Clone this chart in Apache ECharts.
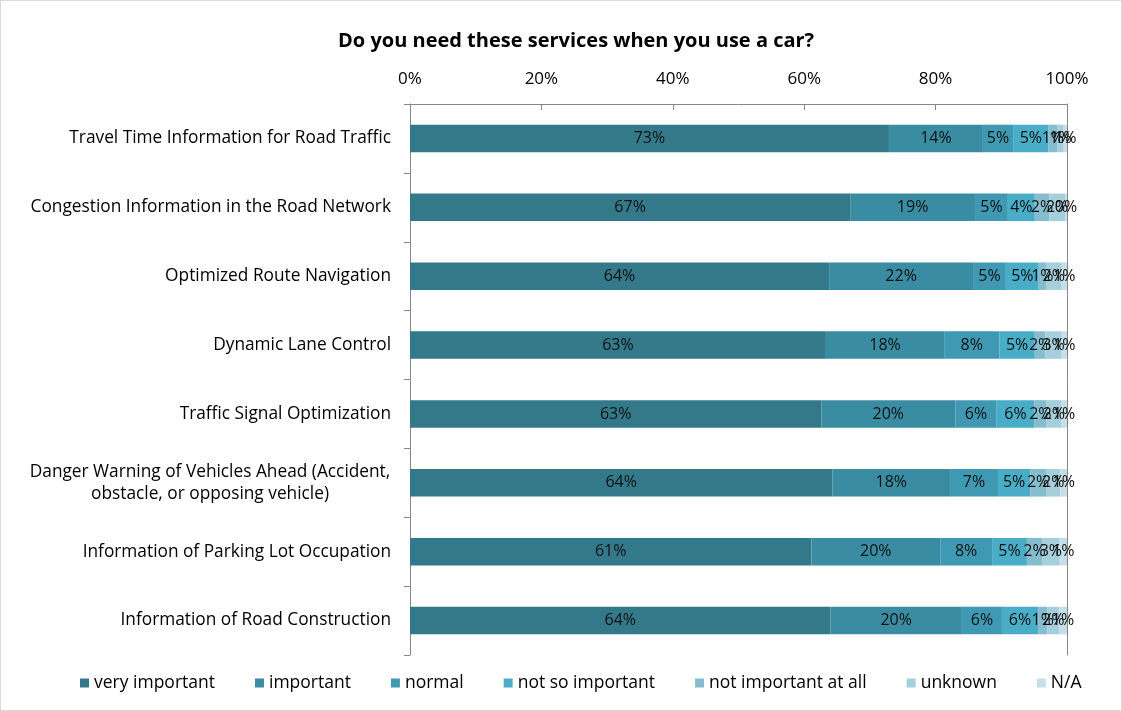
<!DOCTYPE html>
<html>
<head>
<meta charset="utf-8">
<script src="https://cdn.jsdelivr.net/npm/echarts@6/dist/echarts.min.js"></script>
<style>
  html, body { margin: 0; padding: 0; background: #fff; }
  #chart { width: 1120px; height: 709px; border: 1px solid #d9d9d9; }
</style>
</head>
<body>
<div id="chart"></div>
<script>
// Survey: how much drivers need each service (share of answers, %)
const categories = [
  'Travel Time Information for Road Traffic',
  'Congestion Information in the Road Network',
  'Optimized Route Navigation',
  'Dynamic Lane Control',
  'Traffic Signal Optimization',
  'Danger Warning of Vehicles Ahead (Accident,\nobstacle, or opposing vehicle)',
  'Information of Parking Lot Occupation',
  'Information of Road Construction'
];
const seriesNames = ['very important', 'important', 'normal', 'not so important',
  'not important at all', 'unknown', 'N/A'];

const veryImportant = [72.9, 67.0, 63.8, 63.3, 62.6, 64.3, 61.1, 64.0];
const important     = [14.3, 19.0, 21.9, 18.0, 20.4, 17.9, 19.6, 20.0];
const normal        = [4.6, 5.0, 5.0, 8.4, 6.3, 7.3, 7.9, 6.1];
const notSoImportant = [5.4, 4.1, 5.0, 5.4, 5.7, 4.9, 5.3, 5.5];
const notImportantAtAll = [1.3, 2.2, 1.1, 1.6, 1.9, 2.4, 2.3, 1.4];
const unknown       = [1.0, 2.4, 2.4, 2.5, 2.2, 2.2, 2.7, 1.8];
const notAnswered   = [0.5, 0.3, 0.8, 0.8, 0.9, 1.0, 1.1, 1.2];

const axisTicks = [0, 20, 40, 60, 80, 100];

const seriesValues = [veryImportant, important, normal, notSoImportant,
  notImportantAtAll, unknown, notAnswered];
const colors = ['#33798a', '#3a8ca2', '#4099b3', '#4aadc7', '#86bdce', '#a6cfdc', '#c6dee7'];

const FONT = '"Open Sans", "Noto Sans", sans-serif';

const chart = echarts.init(document.getElementById('chart'));

chart.setOption({
  animation: false,
  textStyle: { fontFamily: FONT },
  title: {
    text: 'Do you need these services when you use a car?',
    left: 332,
    top: 25,
    textStyle: { fontSize: 20, fontWeight: 'bold', color: '#000', fontFamily: FONT }
  },
  legend: {
    bottom: 13,
    left: 74,
    itemWidth: 9,
    itemHeight: 9,
    itemGap: 40,
    icon: 'rect',
    textStyle: { fontSize: 17.5, color: '#000', fontFamily: FONT },
    data: seriesNames
  },
  grid: { left: 409, right: 54, top: 103, bottom: 55, containLabel: false },
  xAxis: {
    type: 'value',
    position: 'top',
    min: axisTicks[0],
    max: axisTicks[axisTicks.length - 1],
    interval: axisTicks[1] - axisTicks[0],
    axisLine: { show: true, lineStyle: { color: '#868686', width: 1 } },
    axisTick: { show: true, inside: true, length: 6, lineStyle: { color: '#868686' } },
    splitLine: { show: false },
    axisLabel: {
      formatter: '{value}%',
      fontSize: 17,
      color: '#000',
      margin: 16,
      fontFamily: FONT
    }
  },
  yAxis: [{
    type: 'category',
    inverse: true,
    data: categories,
    axisLine: { show: true, lineStyle: { color: '#868686' } },
    axisTick: { show: true, length: 6, lineStyle: { color: '#868686' } },
    axisLabel: {
      fontSize: 17.3,
      color: '#000',
      margin: 19,
      fontFamily: FONT,
      formatter: function (v) {
        return v.indexOf('\n') >= 0 ? '{c|' + v + '}' : v;
      },
      rich: {
        c: { width: 362, align: 'center', fontSize: 17.3, lineHeight: 22, color: '#000', fontFamily: FONT }
      }
    }
  }, {
    type: 'category',
    inverse: true,
    position: 'right',
    data: categories,
    axisLine: { show: true, lineStyle: { color: '#868686' } },
    axisTick: { show: false },
    axisLabel: { show: false }
  }],
  series: seriesNames.map(function (name, i) {
    return {
      name: name,
      type: 'bar',
      stack: 'total',
      yAxisIndex: 0,
      barWidth: '40%',
      data: seriesValues[i],
      itemStyle: { color: colors[i] },
      label: {
        show: true,
        position: 'inside',
        color: '#111',
        fontSize: 16,
        fontFamily: FONT,
        formatter: function (p) { return Math.round(p.value) + '%'; }
      }
    };
  })
});
</script>
</body>
</html>
